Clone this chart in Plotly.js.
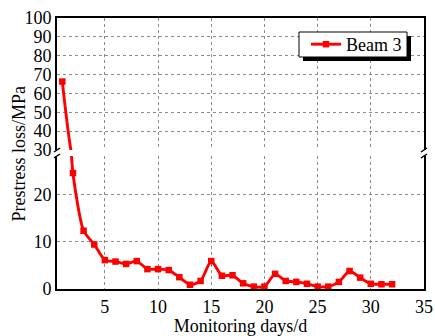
<!DOCTYPE html>
<html>
<head>
<meta charset="utf-8">
<script src="https://cdn.plot.ly/plotly-3.0.1.min.js"></script>
<style>html,body{margin:0;padding:0;background:#fff;}#chart{width:435px;height:336px;}</style>
</head>
<body>
<div id="chart"></div>
<script>
// Data
const days = [1,2,3,4,5,6,7,8,9,10,11,12,13,14,15,16,17,18,19,20,21,22,23,24,25,26,27,28,29,30,31,32];
const beam3Loss = [66.3,24.5,12.3,9.4,6.1,5.8,5.3,5.9,4.2,4.2,4.0,2.5,0.9,1.7,5.9,2.8,2.9,1.2,0.5,0.5,3.2,1.7,1.5,1.1,0.5,0.5,1.5,3.8,2.4,1.1,1.0,1.0];
const seriesName = 'Beam 3';
const xTicks = [5,10,15,20,25,30,35];
const lowerTicks = [0,10,20];
const upperTicks = [30,40,50,60,70,80,90,100];

const W = 435, H = 336;
const M = {l:57, r:11, t:18, b:47};
const PW = W - M.l - M.r, PH = H - M.t - M.b;
const px = x => (x - M.l) / PW;
const py = y => (H - M.b - y) / PH;

const FONT = 'Liberation Serif';
const RED = '#ff0000';

const common = {
  x: days, y: beam3Loss, mode: 'lines+markers', name: seriesName,
  line: {color: RED, width: 2.9, shape: 'spline', smoothing: 0.6},
  marker: {symbol: 'square', size: 6.5, color: RED},
  cliponaxis: true
};
const traces = [
  Object.assign({}, common, {xaxis: 'x', yaxis: 'y', showlegend: true}),
  Object.assign({}, common, {xaxis: 'x2', yaxis: 'y2', showlegend: false})
];

const gridStyle = {showgrid: true, gridcolor: '#8c8c8c', gridwidth: 1, griddash: 'dot', zeroline: false};
const axLine = {showline: true, linecolor: '#000', linewidth: 2};

const lowerTop = py(156), upperBot = py(150);

function brk(xp, yp) {
  return {type: 'line', xref: 'paper', yref: 'paper',
    x0: px(xp - 3), y0: py(yp + 2), x1: px(xp + 3), y1: py(yp - 2),
    line: {color: '#000', width: 1.5}};
}

const legL = 299, legT = 32, legR = 407, legB = 57;

const layout = {
  width: W, height: H,
  margin: M,
  paper_bgcolor: '#fff', plot_bgcolor: '#fff',
  font: {family: FONT, size: 18, color: '#000'},
  showlegend: true,
  legend: {
    x: px(legL + 7), xanchor: 'left', y: py((legT + legB) / 2), yanchor: 'middle',
    bgcolor: 'rgba(0,0,0,0)', borderwidth: 0,
    font: {family: FONT, size: 18, color: '#000'}
  },
  xaxis: Object.assign({}, gridStyle, axLine, {
    range: [0.5, 35], tickvals: xTicks, ticks: '', anchor: 'y', side: 'bottom',
    tickfont: {family: FONT, size: 18},
    title: {text: 'Monitoring days/d', font: {family: FONT, size: 18}, standoff: 14}
  }),
  xaxis2: Object.assign({}, gridStyle, axLine, {
    range: [0.5, 35], tickvals: xTicks, ticks: '', anchor: 'y2', side: 'top',
    showticklabels: false, matches: 'x'
  }),
  yaxis: Object.assign({}, gridStyle, axLine, {
    domain: [0, lowerTop], range: [0, 28.1], tickvals: lowerTicks, ticks: '',
    mirror: true, tickfont: {family: FONT, size: 18}, ticklabelstandoff: 0
  }),
  yaxis2: Object.assign({}, gridStyle, axLine, {
    domain: [upperBot, 1], range: [30, 100], tickvals: upperTicks, ticks: '',
    mirror: true, tickfont: {family: FONT, size: 18}, ticklabelstandoff: 0
  }),
  annotations: [{
    text: 'Prestress loss/MPa', xref: 'paper', yref: 'paper',
    x: px(18), y: 0.5, xanchor: 'center', yanchor: 'middle',
    textangle: -90, showarrow: false, font: {family: FONT, size: 18, color: '#000'}
  }],
  shapes: [
    {type: 'rect', xref: 'paper', yref: 'paper', layer: 'above',
     x0: px(legL + 4), x1: px(legR + 4), y0: py(legB + 4), y1: py(legT + 4),
     fillcolor: '#000', line: {width: 0}},
    {type: 'rect', xref: 'paper', yref: 'paper', layer: 'above',
     x0: px(legL), x1: px(legR), y0: py(legB), y1: py(legT),
     fillcolor: '#fff', line: {color: '#000', width: 1}},
    brk(M.l, 150), brk(M.l, 156),
    brk(W - M.r, 150), brk(W - M.r, 156)
  ]
};

Plotly.newPlot('chart', traces, layout, {staticPlot: true, displayModeBar: false});
</script>
</body>
</html>
